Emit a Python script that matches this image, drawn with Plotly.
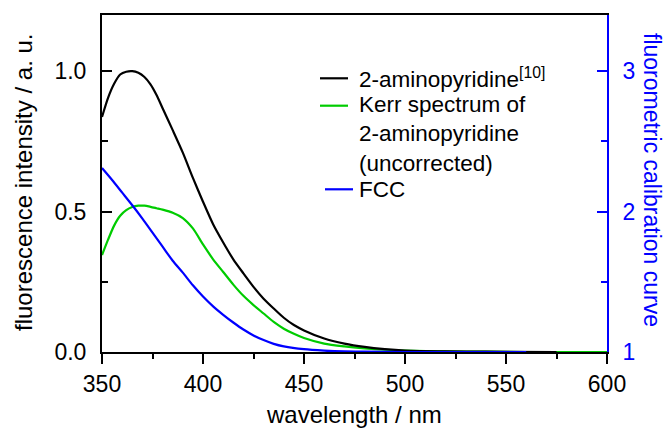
import plotly.graph_objects as go

# ---- data ----
wl_amino = [350, 353, 356, 359, 362, 365, 368, 371, 374, 377, 380, 385, 390, 395, 400, 405,
            410, 415, 420, 425, 430, 435, 440, 445, 450, 460, 470, 480, 490, 500, 520, 540, 575]
amino = [0.837, 0.905, 0.955, 0.988, 0.998, 1.0, 0.994, 0.979, 0.953, 0.915, 0.868, 0.79,
         0.71, 0.62, 0.535, 0.455, 0.39, 0.33, 0.28, 0.232, 0.19, 0.155, 0.122, 0.096, 0.077,
         0.048, 0.03, 0.018, 0.01, 0.005, 0.002, 0.001, 0.0]

wl_kerr = [350, 353, 356, 359, 362, 365, 368, 371, 374, 377, 380, 385, 390, 395, 400, 405,
           410, 415, 420, 425, 430, 435, 440, 445, 450, 460, 470, 480, 490, 500, 520, 540, 560, 600]
kerr = [0.345, 0.40, 0.45, 0.485, 0.505, 0.516, 0.521, 0.521, 0.517, 0.512, 0.507, 0.496,
        0.477, 0.44, 0.383, 0.33, 0.285, 0.24, 0.2, 0.167, 0.137, 0.107, 0.083, 0.065, 0.05,
        0.03, 0.02, 0.013, 0.008, 0.005, 0.002, 0.001, 0.0, 0.0]

wl_fcc = [350, 355, 360, 365, 370, 375, 380, 385, 390, 395, 400, 405, 410, 415, 420,
          425, 430, 435, 440, 450, 460, 470, 480, 500, 560]
fcc = [2.31, 2.225, 2.135, 2.045, 1.95, 1.85, 1.75, 1.65, 1.565, 1.475, 1.395, 1.325,
       1.265, 1.21, 1.16, 1.118, 1.085, 1.058, 1.04, 1.02, 1.01, 1.004, 1.002, 1.0, 1.0]

x_ticks = [350, 400, 450, 500, 550, 600]
y_ticks = [0.0, 0.5, 1.0]
y2_ticks = [1, 2, 3]

legend_labels = ["2-aminopyridine<sup>[10]</sup>",
                 "Kerr spectrum of<br>2-aminopyridine<br>(uncorrected)",
                 "FCC"]

BLACK = "#000000"
GREEN = "#00cc00"
BLUE = "#0000ff"
FONT = "Arial, Liberation Sans, sans-serif"
LW = 2.2
SM = 0.7

fig = go.Figure()
fig.add_trace(go.Scatter(x=wl_kerr, y=kerr, mode="lines",
                         line=dict(color=GREEN, width=LW, shape="spline", smoothing=SM), showlegend=False))
fig.add_trace(go.Scatter(x=wl_amino, y=amino, mode="lines",
                         line=dict(color=BLACK, width=LW, shape="spline", smoothing=SM), showlegend=False))
fig.add_trace(go.Scatter(x=wl_fcc, y=fcc, mode="lines", yaxis="y2",
                         line=dict(color=BLUE, width=LW, shape="spline", smoothing=SM), showlegend=False))

W, H = 666, 428
L, R, T, B = 102, 59, 15, 76
pw, ph = W - L - R, H - T - B

def px(X):
    return (X - L) / pw

def py(Y):
    return (H - B - Y) / ph

fig.update_layout(
    width=W, height=H,
    margin=dict(l=L, r=R, t=T, b=B),
    paper_bgcolor="white", plot_bgcolor="white",
    font=dict(family=FONT, size=23, color="black"),
    xaxis=dict(range=[350, 600], tickvals=x_ticks, ticks="outside", ticklen=10, tickwidth=2,
               tickcolor="black", showline=True, linecolor="black", linewidth=2, mirror=True,
               showgrid=False, zeroline=False, layer="below traces",
               minor=dict(dtick=25, tick0=350, ticks="outside", ticklen=5, tickwidth=2, tickcolor="black"),
               tickfont=dict(size=23)),
    yaxis=dict(range=[0, 1.2], tickvals=y_ticks, tickformat=".1f", ticks="inside", ticklen=10,
               tickwidth=2, tickcolor="black", showline=True, linecolor="black", linewidth=2,
               showgrid=False, zeroline=False, ticklabelstandoff=9,
               minor=dict(dtick=0.25, tick0=0, ticks="inside", ticklen=6, tickwidth=2, tickcolor="black"),
               tickfont=dict(size=23)),
    yaxis2=dict(range=[1, 3.4], tickvals=y2_ticks, overlaying="y", side="right", anchor="x",
                ticks="inside", ticklen=10, tickwidth=2, tickcolor=BLUE, showline=True,
                linecolor=BLUE, linewidth=2, showgrid=False, zeroline=False, ticklabelstandoff=9,
                minor=dict(dtick=0.5, tick0=1, ticks="inside", ticklen=6, tickwidth=2, tickcolor=BLUE),
                tickfont=dict(size=23, color=BLUE)),
)

annotations = [
    dict(text="fluorescence intensity / a. u.", x=px(23), y=py(182), xref="paper", yref="paper",
         textangle=-90, showarrow=False, font=dict(size=24, color="black"), xanchor="center", yanchor="middle"),
    dict(text="fluorometric calibration curve", x=px(652), y=py(180), xref="paper", yref="paper",
         textangle=90, showarrow=False, font=dict(size=23, color=BLUE), xanchor="center", yanchor="middle"),
    dict(text="wavelength / nm", x=px(354), y=py(415), xref="paper", yref="paper",
         showarrow=False, font=dict(size=24, color="black"), xanchor="center", yanchor="middle"),
]

# legend (manual)
leg_rows = [(78.3, 320, 348, BLACK, legend_labels[0], 78.3),
            (105.7, 320, 348, GREEN, legend_labels[1], 134),
            (189.3, 325, 353, BLUE, legend_labels[2], 189.3)]
shapes = []
for ly, x0, x1, col, lab, ty in leg_rows:
    shapes.append(dict(type="line", xref="paper", yref="paper", x0=px(x0), x1=px(x1),
                       y0=py(ly), y1=py(ly), line=dict(color=col, width=LW)))
    annotations.append(dict(text=lab, x=px(357), y=py(ty), xref="paper", yref="paper",
                            showarrow=False, xanchor="left", yanchor="middle", align="left",
                            font=dict(size=22.5, color="black")))

fig.update_layout(annotations=annotations, shapes=shapes)
fig.write_html("out.html")
